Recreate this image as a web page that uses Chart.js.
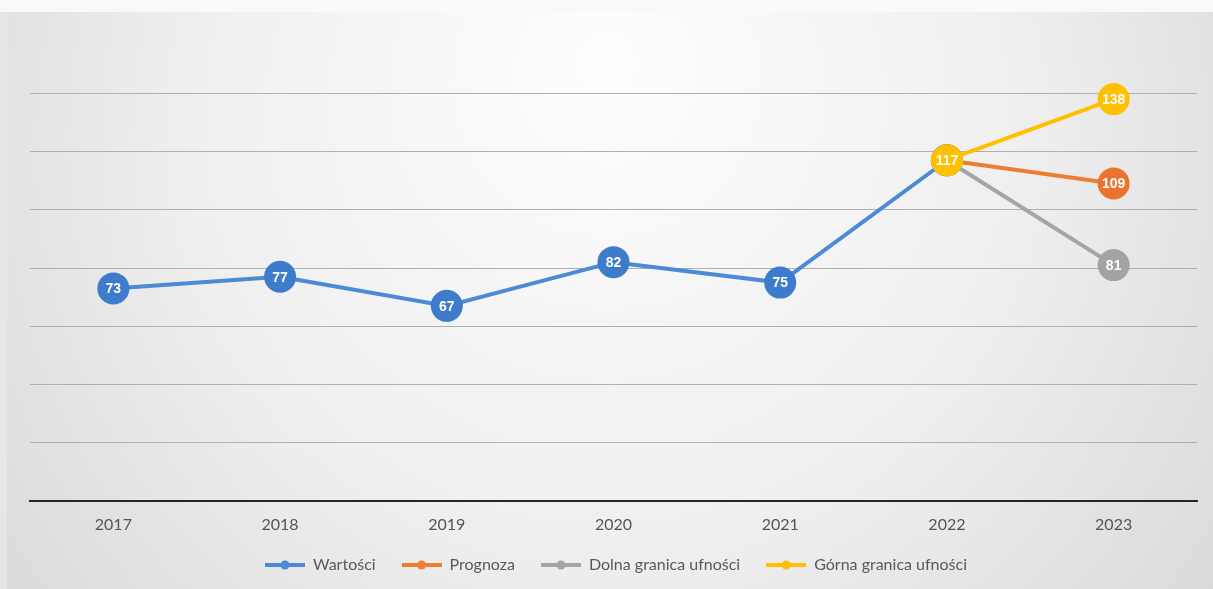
<!DOCTYPE html>
<html><head><meta charset="utf-8">
<script src="https://cdn.jsdelivr.net/npm/chart.js@4/dist/chart.umd.min.js"></script>
<style>html,body{margin:0;padding:0;background:#fff;overflow:hidden}#wrap{width:1213px;height:589px;overflow:hidden}canvas{display:block}</style>
</head><body><div id="wrap"><canvas id="c" width="1213" height="589"></canvas></div>
<script>
const categories = ['2017','2018','2019','2020','2021','2022','2023'];
const values     = [73, 77, 67, 82, 75, 117, null];
const forecast   = [null, null, null, null, null, 117, 109];
const lowerBound = [null, null, null, null, null, 117, 81];
const upperBound = [null, null, null, null, null, 117, 138];
const seriesNames = ['Wartości', 'Prognoza', 'Dolna granica ufności', 'Górna granica ufności'];
const yTicks = [0, 20, 40, 60, 80, 100, 120, 140, 160];

const colors = ['#4a8ad6', '#ed7d31', '#a5a5a5', '#ffc000'];
const pointColors = ['#3d7ccb', '#ec7230', '#a3a3a3', '#ffc000'];
const drawOrder = [4, 3, 2, 1];

function legendIcon(color){
  const c = document.createElement('canvas');
  c.width = 40; c.height = 12;
  const x = c.getContext('2d');
  x.strokeStyle = color; x.lineWidth = 4;
  x.beginPath(); x.moveTo(0,6); x.lineTo(40,6); x.stroke();
  x.fillStyle = color; x.beginPath(); x.arc(20,6,4.5,0,Math.PI*2); x.fill();
  return c;
}

const bgPlugin = {
  id:'bg',
  beforeDraw(chart){
    const {ctx, width, height} = chart;
    ctx.save();
    const g = ctx.createRadialGradient(width*0.5, height*0.1, 10, width*0.5, height*0.3, width*0.62);
    g.addColorStop(0, '#fdfdfd');
    g.addColorStop(0.55, '#efefef');
    g.addColorStop(1, '#d9d9d9');
    ctx.fillStyle = g;
    ctx.fillRect(0,0,width,height);
    ctx.fillStyle = '#f9f9f9';
    ctx.fillRect(0,0,width,12);
    ctx.fillStyle = '#e6e6e6';
    ctx.fillRect(0,12,7,height-12);
    ctx.restore();
  }
};

const labelPlugin = {
  id:'lbls',
  afterDatasetsDraw(chart){
    const ctx = chart.ctx;
    ctx.save();
    ctx.font = 'bold 14px "Liberation Sans", Arial, sans-serif';
    ctx.fillStyle = '#ffffff';
    ctx.textAlign = 'center';
    ctx.textBaseline = 'middle';
    chart.data.datasets.forEach((ds, di) => {
      const meta = chart.getDatasetMeta(di);
      meta.data.forEach((pt, i) => {
        const v = ds.data[i];
        if (v === null) return;
        if (di > 0 && i !== ds.data.length - 1) return;
        ctx.fillText(String(v), pt.x, pt.y + 1);
      });
    });
    ctx.restore();
  }
};

const mk = (i, data) => ({
  label: seriesNames[i], data, order: drawOrder[i],
  borderColor: colors[i], backgroundColor: pointColors[i],
  borderWidth: 4, pointRadius: 16, pointHoverRadius: 16,
  pointBorderWidth: 0, pointBackgroundColor: pointColors[i],
  pointStyle: 'circle', spanGaps: false, tension: 0
});

const FONT = 'Lato, "Liberation Sans", sans-serif';

new Chart(document.getElementById('c'), {
  type: 'line',
  data: {
    labels: categories,
    datasets: [mk(0, values), mk(1, forecast), mk(2, lowerBound), mk(3, upperBound)]
  },
  options: {
    responsive: false, animation: false, devicePixelRatio: 1,
    layout: { padding: { left: 30, right: 11, top: 35, bottom: 6 } },
    plugins: {
      tooltip: { enabled: false },
      legend: {
        position: 'bottom',
        labels: {
          usePointStyle: true, pointStyleWidth: 40, boxHeight: 12,
          color: '#595959', padding: 26,
          font: { family: FONT, size: 16 },
          generateLabels(chart){
            return chart.data.datasets.map((ds, i) => ({
              text: ds.label, pointStyle: legendIcon(colors[i]),
              fillStyle: colors[i], strokeStyle: colors[i], lineWidth: 0,
              fontColor: '#595959', datasetIndex: i, hidden: false
            }));
          }
        }
      }
    },
    scales: {
      x: {
        offset: true,
        grid: { display: false, drawTicks: false },
        border: { display: true, color: '#262626', width: 2 },
        ticks: { color: '#555555', padding: 14, font: { family: FONT, size: 16 } },
        afterFit(scale){ scale.height = 30; scale.paddingLeft = 0; scale.paddingRight = 0; }
      },
      y: {
        min: 0, max: 160,
        afterBuildTicks(axis){ axis.ticks = yTicks.map(v => ({ value: v })); },
        ticks: { display: false },
        border: { display: false },
        grid: {
          drawTicks: false, lineWidth: 1,
          color: ctx => (ctx.tick && (ctx.tick.value === 160 || ctx.tick.value === 0)) ? 'rgba(0,0,0,0)' : '#b0b0b0'
        }
      }
    }
  },
  plugins: [bgPlugin, labelPlugin]
});
</script>
</body></html>
